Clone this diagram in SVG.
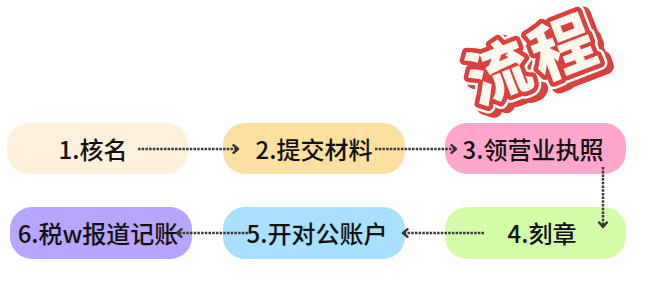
<svg xmlns="http://www.w3.org/2000/svg" width="647" height="292" viewBox="0 0 647 292">
<defs>
<style>
.node text{font-family:"Noto Sans CJK SC","Noto Sans",sans-serif;font-size:24px;font-weight:500;fill:#111;text-anchor:middle}
.conn line{stroke:#3a3a3a;stroke-width:2.5;stroke-dasharray:2.5 1.2;fill:none}
.stamp text{font-family:"Noto Sans CJK SC",sans-serif;font-size:63px;font-weight:900;text-anchor:middle;letter-spacing:6px;stroke-linejoin:round;paint-order:stroke}
</style>
<marker id="arr" viewBox="0 0 8 10" refX="6" refY="5" markerWidth="8" markerHeight="10" markerUnits="userSpaceOnUse" orient="auto">
<path d="M1.5,1.2 L6,5 L1.5,8.8" fill="none" stroke="#333" stroke-width="2.4" stroke-linecap="round" stroke-linejoin="round"/>
</marker>
</defs>
<rect width="647" height="292" fill="#ffffff"/>
<g class="stamp" transform="translate(534,61) rotate(-21)">
<text x="4" y="26" fill="#fff" stroke="#d9403e" stroke-width="16">流程</text>
<text x="0" y="21" fill="#fff" stroke="#fff" stroke-width="14">流程</text>
<text x="0" y="21" fill="#fff8ee" stroke="#d9403e" stroke-width="9">流程</text>
</g>
<g id="node1" class="node"><rect x="7" y="123" width="181" height="51" rx="22" fill="#fff0dc"/><text x="93" y="159">1.核名</text></g>
<g id="node2" class="node"><rect x="223" y="123" width="182" height="51" rx="22" fill="#fddf9f"/><text x="314" y="159">2.提交材料</text></g>
<g id="node3" class="node"><rect x="445" y="123" width="181" height="51" rx="22" fill="#ffa6cd"/><text x="533" y="159">3.领营业执照</text></g>
<g id="node4" class="node"><rect x="445" y="207" width="181" height="52" rx="22" fill="#d3fda8"/><text x="542" y="243">4.刻章</text></g>
<g id="node5" class="node"><rect x="223" y="207" width="182" height="52" rx="22" fill="#a8e0fd"/><text x="317" y="243">5.开对公账户</text></g>
<g id="node6" class="node"><rect x="10" y="207" width="182" height="52" rx="22" fill="#b8a5fd"/><text x="98" y="243">6.税w报道记账</text></g>
<g class="conn">
<line x1="138" y1="149" x2="238" y2="149" marker-end="url(#arr)"/>
<line x1="375" y1="149" x2="456" y2="149" marker-end="url(#arr)"/>
<line x1="603" y1="167" x2="603" y2="227" marker-end="url(#arr)"/>
<line x1="484" y1="233" x2="403" y2="233" marker-end="url(#arr)"/>
<line x1="248" y1="233" x2="177" y2="233" marker-end="url(#arr)"/>
</g>
</svg>
